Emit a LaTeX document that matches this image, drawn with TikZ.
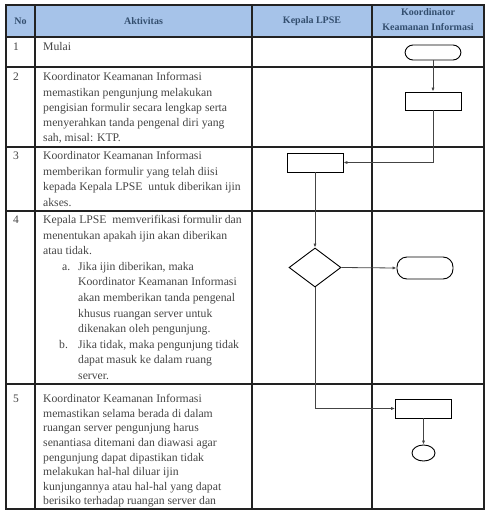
\documentclass[tikz,border=0pt]{standalone}
\usepackage{fontspec}
\setmainfont{Liberation Serif}
\usetikzlibrary{shapes.geometric,arrows.meta}
\definecolor{hdrfill}{HTML}{A6C3E9}
\definecolor{hdrtext}{HTML}{334E6E}
\definecolor{bodytext}{HTML}{454545}
\definecolor{gridline}{HTML}{222222}
\definecolor{flowline}{HTML}{444444}
\newcommand{\firstline}{\rule{0pt}{9pt}}
\begin{document}
\begin{tikzpicture}[x=1pt,y=-1pt,
  cell/.style={anchor=north west,inner sep=0pt,align=left,text=bodytext,
    font=\fontsize{11.7}{15.6}\selectfont},
  cella/.style={cell,font=\fontsize{11.7}{15.3}\selectfont},
  cellb/.style={cell,font=\fontsize{11.7}{14.6}\selectfont},
  num/.style={anchor=north west,inner sep=0pt,text=bodytext,font=\fontsize{11.5}{15}\selectfont},
  hdr/.style={inner sep=0pt,align=center,text=hdrtext,font=\bfseries\fontsize{10}{15}\selectfont},
  grid/.style={draw=gridline,line width=1.2pt},
  box/.style={draw=black,line width=0.9pt,fill=white,inner sep=0pt},
  procbox/.style={box,rectangle,minimum width=56pt,minimum height=19pt},
  termbox/.style={box,rectangle,rounded corners=8pt,minimum width=56pt},
  decbox/.style={box,diamond,minimum width=52pt,minimum height=39pt},
  endbox/.style={box,ellipse,minimum width=23pt,minimum height=16pt},
  flow/.style={draw=flowline,line width=0.8pt,-{Latex[length=4pt,width=3.2pt]}}
]
\useasboundingbox (0,0) rectangle (486,511);

% header band
\fill[hdrfill] (6,5) rectangle (484,37);

% table rules
\draw[grid] (6,5) rectangle (484,509);
\foreach \yy in {37,67,147,211,384} \draw[grid] (6,\yy) -- (484,\yy);
\foreach \xx in {35,252,372} \draw[grid] (\xx,5) -- (\xx,509);

% header texts
\node[hdr] (hno) at (20.5,21) {No};
\node[hdr] (hakt) at (143.5,21) {Aktivitas};
\node[hdr] (hkep) at (312,21) {Kepala LPSE};
\node[hdr] (hkoor) at (428,20) {Koordinator\\Keamanan Informasi};

% row numbers
\node[num] (n1) at (13,41) {\firstline 1};
\node[num] (n2) at (13,71.5) {\firstline 2};
\node[num] (n3) at (13,150.2) {\firstline 3};
\node[num] (n4) at (13,214.2) {\firstline 4};
\node[num] (n5) at (13,393.5) {\firstline 5};

% activity descriptions
\node[cell] (a1) at (43,41) {\firstline Mulai};
\node[cella] (a2) at (43,71.5) {\firstline Koordinator Keamanan Informasi\\
  memastikan pengunjung melakukan\\
  pengisian formulir secara lengkap serta\\
  menyerahkan tanda pengenal diri yang\\
  sah, misal: KTP.};
\node[cell] (a3) at (43,150.2) {\firstline Koordinator Keamanan Informasi\\
  memberikan formulir yang telah diisi\\
  kepada Kepala LPSE\ \ untuk diberikan ijin\\
  akses.};
\node[cell] (a4) at (43,214.2) {\firstline Kepala LPSE\ \ memverifikasi formulir dan\\
  menentukan apakah ijin akan diberikan\\
  atau tidak.\\
  \hspace*{19pt}\makebox[16pt][l]{a.}Jika ijin diberikan, maka\\
  \hspace*{35pt}Koordinator Keamanan Informasi\\
  \hspace*{35pt}akan memberikan tanda pengenal\\
  \hspace*{35pt}khusus ruangan server untuk\\
  \hspace*{35pt}dikenakan oleh pengunjung.\\
  \hspace*{16pt}\makebox[19pt][l]{b.}Jika tidak, maka pengunjung tidak\\
  \hspace*{35pt}dapat masuk ke dalam ruang\\
  \hspace*{35pt}server.};
\node[cellb] (a5) at (43,393.5) {\firstline Koordinator Keamanan Informasi\\
  memastikan selama berada di dalam\\
  ruangan server pengunjung harus\\
  senantiasa ditemani dan diawasi agar\\
  pengunjung dapat dipastikan tidak\\
  melakukan hal-hal diluar ijin\\
  kunjungannya atau hal-hal yang dapat\\
  berisiko terhadap ruangan server dan};

% flowchart symbols
\node[termbox,minimum height=15pt] (start) at (433,52.5) {};
\node[procbox,minimum height=18pt] (p1) at (433,101) {};
\node[procbox] (p2) at (315,162.5) {};
\node[decbox] (dec) at (315,267.5) {};
\node[termbox,minimum height=22pt,rounded corners=10pt] (stopa) at (425,268) {};
\node[procbox] (p3) at (423.5,408.5) {};
\node[endbox] (stopb) at (423.5,453) {};

% connectors
\draw[flow] (start) -- (p1);
\draw[flow] (p1.south) |- (p2.east);
\draw[flow] (p2) -- (dec);
\draw[flow] (dec.east) -- (stopa.west);
\draw[flow] (dec.south) |- (p3.west);
\draw[flow] (p3) -- (stopb);
\end{tikzpicture}
\end{document}
